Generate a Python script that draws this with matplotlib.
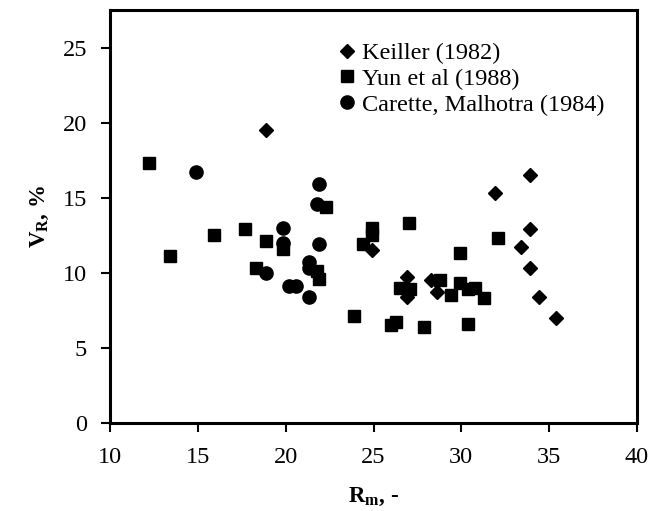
import matplotlib
matplotlib.use("Agg")
import matplotlib.pyplot as plt

plt.rcParams['font.family'] = ['Liberation Serif', 'DejaVu Serif']
plt.rcParams['mathtext.fontset'] = 'custom'
plt.rcParams['mathtext.rm'] = 'Liberation Serif:bold'
plt.rcParams['mathtext.it'] = 'Liberation Serif:italic:bold'
plt.rcParams['mathtext.bf'] = 'Liberation Serif:bold'

# Keiller (1982)
keiller_x = [18.9, 31.9, 33.9, 33.9, 33.4, 33.9, 34.4, 35.4, 24.9, 26.9, 26.9, 28.3, 28.6]
keiller_y = [19.5, 15.3, 16.5, 12.9, 11.7, 10.3, 8.4, 7.0, 11.5, 9.7, 8.4, 9.5, 8.7]

# Yun et al (1988)
yun_x = [12.2, 13.4, 15.9, 17.7, 18.9, 18.3, 19.85, 21.8, 21.9, 22.3, 23.9, 24.4,
         24.9, 24.9, 27.0, 32.1, 29.9, 26.5, 27.1, 28.8, 29.4, 29.9, 30.4, 30.8,
         31.3, 26.0, 26.3, 27.9, 30.4]
yun_y = [17.3, 11.1, 12.5, 12.9, 12.1, 10.3, 11.6, 10.1, 9.6, 14.4, 7.1, 11.9,
         13.0, 12.5, 13.3, 12.3, 11.3, 9.0, 8.9, 9.5, 8.5, 9.3, 8.9, 9.0,
         8.3, 6.5, 6.7, 6.4, 6.6]

# Carette, Malhotra (1984)
carette_x = [14.9, 21.9, 21.8, 19.85, 19.85, 21.9, 18.9, 21.3, 21.3, 20.2, 20.6, 21.3]
carette_y = [16.7, 15.9, 14.6, 13.0, 12.0, 11.9, 10.0, 10.7, 10.3, 9.1, 9.1, 8.4]

fig = plt.figure(figsize=(6.58, 5.11), dpi=100)
ax = fig.add_axes([110/658, 1-423/511, 527/658, 413/511])

ax.plot(keiller_x, keiller_y, 'D', color='black', markersize=7.5, linestyle='none',
        label='Keiller (1982)')
ax.plot(yun_x, yun_y, 's', color='black', markersize=8.2, linestyle='none',
        label='Yun et al (1988)')
ax.plot(carette_x, carette_y, 'o', color='black', markersize=9.5, linestyle='none',
        label='Carette, Malhotra (1984)')

ax.set_xlim(10, 40)
ax.set_ylim(0, 27.5)
ax.set_xticks([10, 15, 20, 25, 30, 35, 40])
ax.set_yticks([0, 5, 10, 15, 20, 25])
for s in ax.spines.values():
    s.set_linewidth(2.2)
ax.tick_params(direction='out', length=6.5, width=1.5, labelsize=17.5)
ax.tick_params(axis='x', pad=10.5)
ax.tick_params(axis='y', pad=10)

ax.set_xlabel(r'R$_\mathrm{m}$, -', fontsize=16.5, fontweight='bold', labelpad=13)
ax.set_ylabel(r'V$_\mathrm{R}$, %', fontsize=16.5, fontweight='bold', labelpad=8)

leg = ax.legend(loc='upper left', frameon=False, fontsize=17.5, handletextpad=0.22,
                handlelength=0.8, labelspacing=0.15, borderaxespad=0, borderpad=0,
                bbox_to_anchor=(0.431, 0.922))

fig.savefig('out.png', dpi=100)
